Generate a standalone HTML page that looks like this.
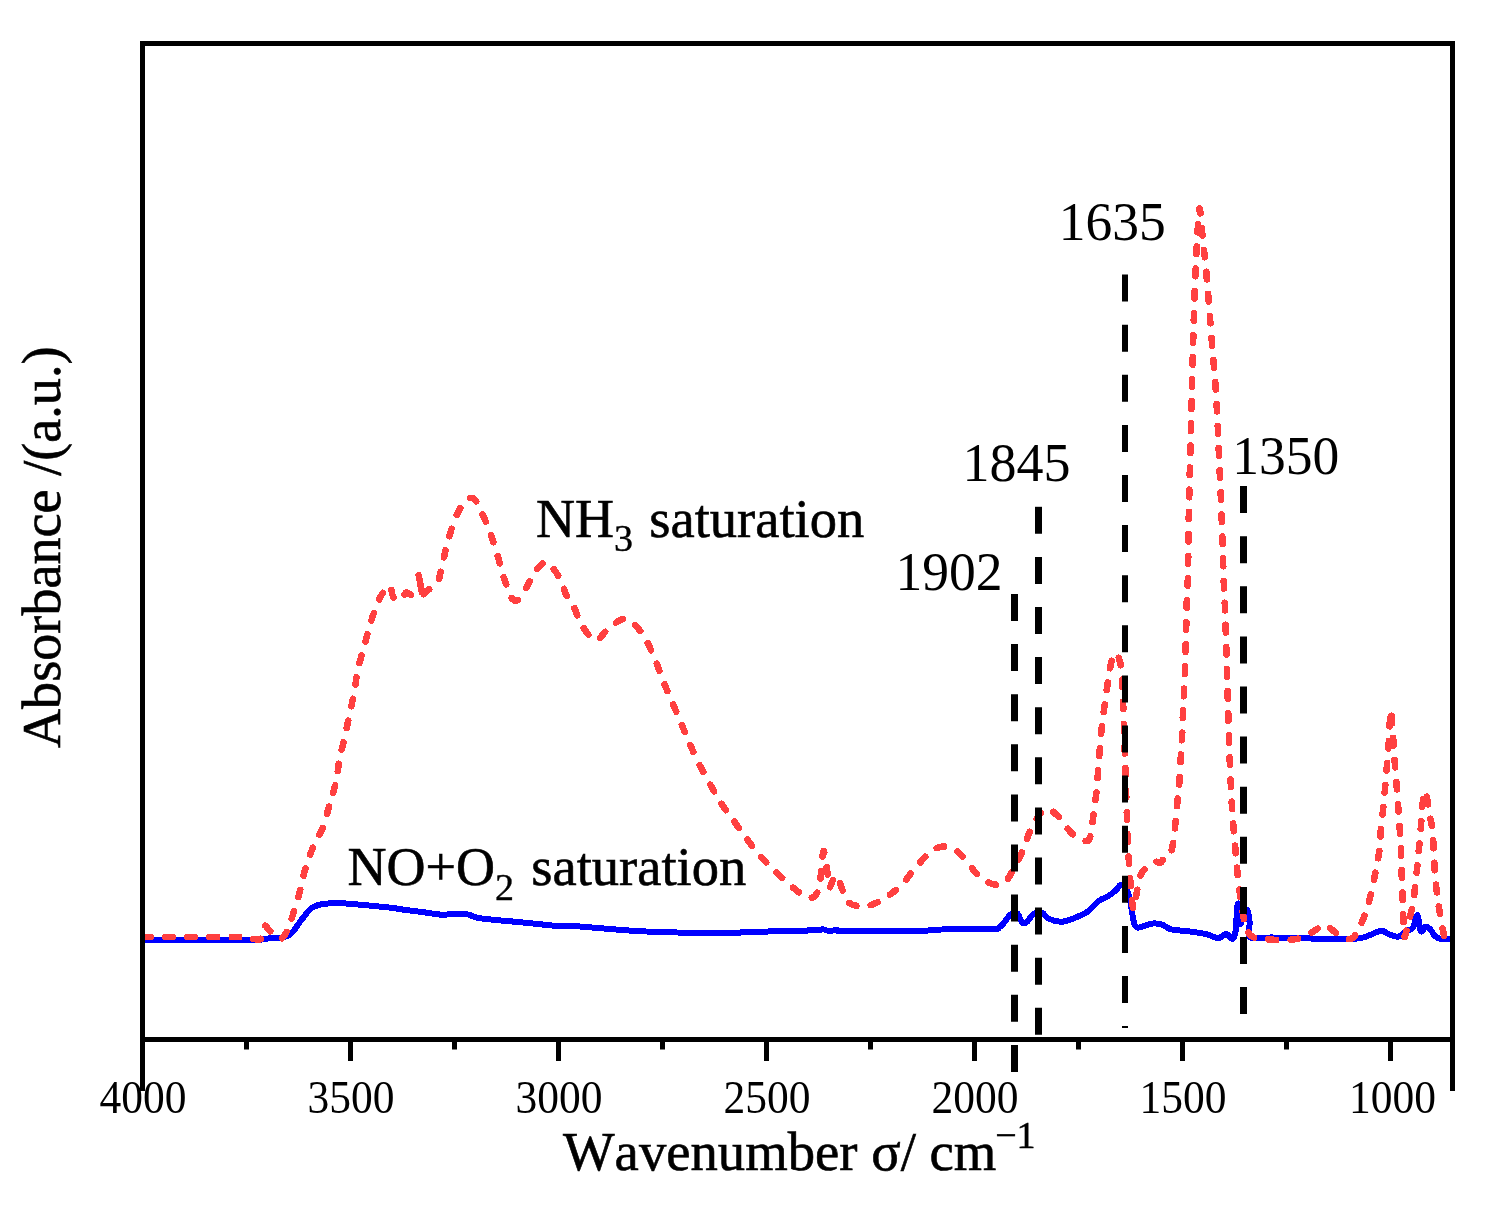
<!DOCTYPE html>
<html lang="en">
<head>
<meta charset="utf-8">
<title>In situ DRIFTS spectra</title>
<style>
html,body{margin:0;padding:0;background:#fff;}
body{width:1490px;height:1209px;overflow:hidden;}
svg{display:block;will-change:transform;}
text{font-family:"Liberation Serif","DejaVu Serif",serif;fill:#000;font-kerning:none;}
.tick{font-size:45.5px;}
.lab{font-size:55.3px;}
.ttl{font-size:54px;stroke:#000;stroke-width:0.6px;}
.sub{font-size:38px;stroke-width:0.4px;}
</style>
</head>
<body>
<svg width="1490" height="1209" viewBox="0 0 1490 1209">
<rect x="0" y="0" width="1490" height="1209" fill="#ffffff"/>

<!-- curves -->
<g shape-rendering="crispEdges">
<path d="M143.0,940.0 C160.8,940.0 228.7,940.3 250.0,940.0 C271.3,939.7 265.7,938.3 270.9,938.0 C276.1,937.7 277.6,938.7 281.0,938.0 C284.4,937.3 287.7,936.5 291.0,933.6 C294.3,930.7 297.7,924.7 301.0,920.5 C304.3,916.3 307.6,911.2 311.0,908.5 C314.4,905.8 316.5,905.3 321.2,904.4 C325.9,903.5 332.6,903.1 339.3,903.2 C346.0,903.3 352.8,904.0 361.5,904.8 C370.2,905.6 385.3,907.1 391.7,907.8 C398.1,908.5 395.0,908.5 400.0,909.2 C405.0,909.9 415.2,911.1 421.9,912.0 C428.6,912.9 435.3,914.2 440.3,914.6 C445.3,915.0 448.6,914.3 452.0,914.2 C455.4,914.1 457.6,913.7 460.4,913.8 C463.1,913.9 465.1,913.9 468.5,914.6 C471.9,915.4 471.8,917.0 480.5,918.3 C489.2,919.6 507.4,921.0 520.8,922.3 C534.2,923.6 552.6,925.7 561.0,926.3 C569.4,926.9 564.3,925.6 571.0,925.9 C577.7,926.2 589.5,927.4 601.3,928.3 C613.1,929.2 625.1,930.5 641.6,931.3 C658.1,932.1 681.9,932.7 700.0,932.9 C718.1,933.1 736.9,932.6 750.3,932.3 C763.7,932.0 769.4,931.2 780.5,930.9 C791.6,930.6 809.8,930.6 816.8,930.3 C823.8,930.0 820.8,929.2 822.8,929.3 C824.8,929.4 826.5,930.8 828.9,930.9 C831.2,931.0 834.9,930.1 836.9,930.1 C838.9,930.1 826.8,930.6 840.9,930.7 C855.0,930.8 904.7,930.9 921.5,930.7 C938.3,930.5 929.9,929.7 941.6,929.5 C953.4,929.3 982.4,929.6 992.0,929.3 C1001.6,929.0 997.0,928.6 999.0,927.5 C1001.0,926.4 1002.0,924.9 1004.0,922.7 C1006.0,920.5 1008.5,916.0 1010.7,914.4 C1012.9,912.8 1015.4,912.0 1017.3,913.4 C1019.2,914.8 1020.6,921.3 1022.2,922.7 C1023.9,924.1 1025.3,923.2 1027.2,921.7 C1029.1,920.2 1031.3,915.2 1033.8,913.7 C1036.3,912.2 1039.6,911.9 1042.1,912.7 C1044.6,913.5 1045.4,917.2 1048.7,918.7 C1052.0,920.2 1057.5,921.9 1061.9,921.7 C1066.3,921.5 1070.8,919.5 1075.2,917.7 C1079.6,915.9 1084.6,913.9 1088.4,911.1 C1092.2,908.4 1095.0,903.7 1098.3,901.2 C1101.6,898.7 1105.2,898.1 1108.2,896.2 C1111.2,894.3 1114.3,891.5 1116.5,889.6 C1118.7,887.7 1119.6,884.1 1121.5,884.6 C1123.4,885.1 1126.4,889.0 1128.1,892.9 C1129.8,896.8 1130.4,902.8 1131.4,907.8 C1132.4,912.8 1132.9,919.4 1134.0,922.7 C1135.1,926.0 1135.1,927.4 1138.0,927.6 C1140.9,927.8 1147.4,924.2 1151.3,923.7 C1155.2,923.2 1157.9,923.4 1161.2,924.3 C1164.5,925.2 1166.3,928.1 1171.1,929.3 C1175.8,930.5 1183.8,930.7 1189.7,931.5 C1195.6,932.3 1201.5,933.1 1206.2,934.2 C1210.9,935.3 1215.0,937.8 1217.8,938.1 C1220.6,938.4 1221.3,936.4 1222.8,935.8 C1224.3,935.1 1225.1,933.7 1226.8,934.2 C1228.5,934.8 1231.2,939.7 1232.7,939.1 C1234.2,938.5 1234.8,936.1 1235.6,930.9 C1236.3,925.7 1236.7,912.2 1237.2,907.7 C1237.7,903.2 1238.0,903.2 1238.4,903.6 C1238.8,904.0 1239.4,906.6 1239.8,910.0 C1240.2,913.4 1240.3,923.5 1240.6,924.0 C1240.9,924.5 1241.2,915.2 1241.8,913.0 C1242.4,910.8 1243.0,910.9 1244.0,910.5 C1245.0,910.1 1246.7,908.6 1247.6,910.5 C1248.5,912.4 1249.1,917.5 1249.6,922.0 C1250.1,926.5 1246.8,934.9 1250.6,937.5 C1254.4,940.1 1257.8,937.2 1272.5,937.5 C1287.2,937.8 1324.2,939.0 1338.7,939.1 C1353.2,939.2 1354.1,938.9 1359.5,938.2 C1364.9,937.5 1367.3,936.0 1371.0,934.7 C1374.7,933.4 1378.4,930.6 1381.5,930.6 C1384.6,930.6 1386.7,933.7 1389.6,934.7 C1392.5,935.7 1396.1,937.2 1398.8,936.6 C1401.5,936.0 1403.5,932.8 1405.8,931.3 C1408.1,929.8 1410.8,930.5 1412.7,927.8 C1414.6,925.1 1416.1,914.5 1417.4,915.1 C1418.8,915.7 1419.5,929.4 1420.8,931.3 C1422.1,933.2 1424.0,927.0 1425.5,926.6 C1427.0,926.2 1428.6,927.5 1430.1,929.0 C1431.6,930.5 1433.0,934.2 1434.7,935.9 C1436.4,937.5 1437.6,938.4 1440.5,938.9 C1443.4,939.4 1450.1,938.9 1452.0,938.9" fill="none" stroke="#0000ff" stroke-width="6" stroke-linejoin="round" stroke-linecap="butt"/>
<path d="M143.1,937.0 C152.6,937.0 183.0,937.0 200.0,937.0 C217.0,937.0 236.0,936.9 245.0,937.2 C254.0,937.5 251.3,938.8 254.0,939.0 C256.7,939.2 259.2,940.7 261.0,938.5 C262.8,936.3 263.2,927.2 264.5,925.8 C265.8,924.4 267.4,928.5 269.0,930.0 C270.6,931.5 272.0,933.6 274.0,935.0 C276.0,936.4 279.0,938.9 281.0,938.6 C283.0,938.3 284.3,936.0 286.0,933.0 C287.7,930.0 288.8,926.9 291.0,920.5 C293.2,914.1 296.7,902.8 299.0,894.4 C301.3,886.0 302.6,878.1 305.0,870.2 C307.4,862.3 310.1,854.2 313.1,847.1 C316.1,840.0 320.2,834.5 323.0,827.3 C325.8,820.1 327.4,811.8 329.6,804.1 C331.8,796.4 334.6,788.4 336.2,781.0 C337.8,773.6 338.1,766.7 339.5,759.5 C340.9,752.3 342.8,745.5 344.5,738.0 C346.2,730.5 347.9,722.5 349.5,714.8 C351.1,707.1 353.0,699.0 354.4,691.6 C355.8,684.2 356.1,677.5 357.7,670.1 C359.3,662.7 361.9,654.5 364.0,647.0 C366.1,639.5 367.8,632.0 370.0,624.8 C372.2,617.6 375.0,609.4 377.2,604.0 C379.4,598.6 381.2,595.2 383.0,592.5 C384.8,589.8 386.8,588.5 388.0,587.5 C389.2,586.5 389.7,585.2 390.5,586.6 C391.3,588.0 391.9,593.9 392.8,596.0 C393.7,598.1 394.5,598.5 396.0,599.0 C397.5,599.5 400.4,599.9 401.7,599.2 C403.0,598.5 403.2,596.1 404.0,595.0 C404.8,593.9 405.2,592.4 406.5,592.5 C407.8,592.6 410.2,594.7 412.0,595.5 C413.8,596.3 415.6,597.6 417.5,597.5 C419.4,597.4 421.6,595.7 423.2,594.6 C424.8,593.5 425.2,592.5 427.0,591.0 C428.8,589.5 431.9,587.1 433.8,585.5 C435.7,583.9 436.7,584.8 438.1,581.5 C439.5,578.2 440.6,572.1 442.1,565.9 C443.6,559.7 444.9,552.1 447.0,544.4 C449.1,536.7 452.2,526.1 454.7,519.6 C457.2,513.1 459.9,508.8 462.0,505.5 C464.1,502.2 465.9,501.1 467.5,499.8 C469.1,498.5 470.3,497.9 471.5,497.8 C472.7,497.8 473.4,498.3 474.5,499.5 C475.6,500.7 475.7,500.3 478.0,505.0 C480.3,509.7 485.3,519.9 488.4,527.9 C491.5,535.9 494.2,544.7 496.7,552.7 C499.2,560.7 501.0,568.7 503.3,575.9 C505.6,583.1 508.6,591.7 510.5,595.8 C512.4,599.9 513.2,599.9 514.5,600.5 C515.8,601.1 517.1,600.7 518.5,599.5 C519.9,598.3 520.3,598.0 523.0,593.5 C525.7,589.0 531.7,577.2 534.7,572.5 C537.7,567.8 539.2,566.7 541.0,565.0 C542.8,563.3 544.2,562.5 545.5,562.3 C546.8,562.1 547.8,563.1 549.0,564.0 C550.2,564.9 551.0,565.6 552.5,567.5 C554.0,569.4 556.2,572.4 557.9,575.2 C559.5,578.0 561.0,581.0 562.4,584.2 C563.8,587.4 564.8,591.8 566.1,594.6 C567.4,597.4 568.8,598.8 570.2,601.0 C571.6,603.2 572.7,604.4 574.3,607.8 C575.9,611.1 577.2,616.4 579.7,621.1 C582.2,625.8 586.6,633.0 589.6,636.0 C592.6,639.0 594.6,640.7 597.9,639.3 C601.2,637.9 604.8,631.1 609.5,627.7 C614.2,624.3 620.5,617.7 626.0,618.8 C631.5,619.9 637.9,627.8 642.6,634.3 C647.3,640.8 650.9,650.0 654.2,657.5 C657.5,665.0 659.6,672.1 662.4,679.0 C665.1,685.9 667.7,691.6 670.7,698.8 C673.7,706.0 677.6,714.8 680.6,722.0 C683.6,729.2 685.9,735.0 688.9,741.9 C691.9,748.8 695.2,756.2 698.8,763.4 C702.4,770.6 706.5,778.0 710.4,784.9 C714.3,791.8 717.9,798.4 722.0,804.7 C726.1,811.0 730.8,816.8 735.2,822.9 C739.6,829.0 744.1,835.3 748.5,841.1 C752.9,846.9 756.7,852.2 761.7,857.7 C766.7,863.2 772.8,869.0 778.3,874.2 C783.8,879.4 789.6,885.1 794.8,889.1 C800.0,893.1 805.8,897.7 809.7,898.0 C813.6,898.3 816.1,895.3 818.0,890.8 C819.9,886.3 820.4,877.5 821.3,870.9 C822.2,864.3 822.6,851.0 823.6,851.0 C824.6,851.0 826.3,864.8 827.2,870.9 C828.1,877.0 828.4,885.6 829.2,887.5 C830.0,889.4 830.9,884.0 832.0,882.0 C833.1,880.0 834.5,875.5 835.8,875.5 C837.0,875.5 838.4,879.6 839.5,882.0 C840.6,884.4 841.0,886.6 842.5,890.0 C844.0,893.4 844.9,899.5 848.3,902.3 C851.6,905.1 857.7,906.6 862.6,906.6 C867.5,906.6 872.8,904.4 877.5,902.3 C882.2,900.2 886.5,897.2 890.8,894.0 C895.1,890.8 898.7,887.9 903.2,883.0 C907.7,878.1 913.0,870.3 918.0,864.8 C923.0,859.3 928.2,852.9 932.9,849.9 C937.6,846.9 942.1,846.3 946.2,846.6 C950.3,846.9 953.9,848.6 957.7,851.6 C961.6,854.6 965.7,860.7 969.3,864.8 C972.9,868.9 975.3,873.2 979.2,876.4 C983.1,879.6 988.4,882.9 992.5,884.0 C996.6,885.1 1000.7,885.1 1004.0,883.0 C1007.3,880.9 1009.3,876.6 1012.3,871.4 C1015.3,866.2 1018.9,859.0 1022.2,851.6 C1025.5,844.2 1028.3,833.8 1032.2,826.7 C1036.1,819.6 1041.0,810.9 1045.4,809.2 C1049.8,807.6 1054.2,812.8 1058.6,816.8 C1063.0,820.8 1067.5,829.4 1071.9,833.4 C1076.3,837.4 1082.1,840.5 1085.1,841.0 C1088.1,841.5 1088.7,841.0 1090.1,836.7 C1091.5,832.4 1092.3,823.2 1093.4,815.2 C1094.5,807.2 1095.8,798.1 1096.7,788.7 C1097.6,779.3 1098.2,768.8 1099.0,758.9 C1099.8,749.0 1100.6,738.6 1101.6,729.2 C1102.6,719.8 1103.8,711.0 1104.9,702.7 C1106.0,694.4 1107.2,686.4 1108.3,679.5 C1109.4,672.6 1110.2,665.7 1111.6,661.4 C1113.0,657.1 1114.8,652.1 1116.5,653.5 C1118.2,654.9 1120.4,661.4 1121.5,669.6 C1122.6,677.8 1122.5,688.9 1123.1,702.7 C1123.6,716.5 1124.2,735.8 1124.8,752.3 C1125.3,768.8 1125.9,786.5 1126.4,801.9 C1127.0,817.3 1127.5,832.8 1128.1,844.9 C1128.7,857.0 1128.9,864.0 1129.8,874.7 C1130.7,885.4 1132.2,906.2 1133.3,909.3 C1134.4,912.3 1135.6,898.0 1136.6,893.0 C1137.6,888.0 1138.5,882.6 1139.5,879.0 C1140.5,875.4 1141.2,873.3 1142.5,871.5 C1143.8,869.7 1145.5,868.9 1147.0,868.0 C1148.5,867.1 1149.8,867.3 1151.3,866.3 C1152.8,865.3 1154.5,862.3 1156.0,861.8 C1157.5,861.2 1159.2,863.6 1160.5,863.0 C1161.8,862.4 1162.8,859.0 1164.0,858.0 C1165.2,857.0 1166.8,858.2 1168.0,857.0 C1169.2,855.8 1170.5,853.5 1171.4,851.0 C1172.3,848.5 1172.7,845.7 1173.3,842.0 C1173.9,838.3 1174.2,835.2 1174.8,829.0 C1175.4,822.8 1176.4,812.3 1177.1,805.0 C1177.8,797.7 1178.5,792.9 1179.1,785.2 C1179.7,777.5 1180.2,767.0 1180.7,758.7 C1181.2,750.4 1181.7,743.2 1182.1,735.5 C1182.5,727.8 1182.7,719.5 1183.0,712.3 C1183.3,705.1 1183.7,699.7 1184.0,692.5 C1184.3,685.3 1184.7,677.6 1185.0,669.3 C1185.3,661.0 1185.5,651.1 1185.7,642.8 C1185.9,634.5 1186.2,627.9 1186.4,619.6 C1186.6,611.3 1186.8,600.1 1187.0,593.1 C1187.2,586.1 1187.6,591.1 1187.9,577.4 C1188.2,563.7 1188.5,533.2 1188.9,511.1 C1189.3,489.0 1190.0,467.0 1190.5,444.9 C1191.0,422.8 1191.7,398.0 1192.2,378.7 C1192.7,359.4 1193.0,345.6 1193.5,329.0 C1194.0,312.4 1194.6,294.2 1195.2,279.3 C1195.8,264.4 1196.5,251.5 1197.2,239.6 C1197.9,227.7 1198.6,208.1 1199.5,208.1 C1200.4,208.1 1201.8,230.5 1202.8,239.6 C1203.8,248.7 1204.6,254.5 1205.4,262.8 C1206.2,271.1 1206.9,279.9 1207.7,289.3 C1208.5,298.7 1209.3,308.6 1210.1,319.1 C1210.9,329.6 1211.9,342.3 1212.7,352.2 C1213.5,362.1 1214.3,369.9 1215.0,378.7 C1215.7,387.5 1216.2,395.3 1216.7,405.2 C1217.2,415.1 1217.8,426.2 1218.3,438.3 C1218.8,450.4 1219.4,464.8 1220.0,478.0 C1220.6,491.2 1221.3,506.7 1221.7,517.7 C1222.1,528.7 1222.2,533.3 1222.6,544.2 C1222.9,555.1 1223.4,572.3 1223.8,583.2 C1224.2,594.1 1224.7,599.8 1225.1,609.7 C1225.5,619.6 1225.8,631.8 1226.1,642.8 C1226.4,653.8 1226.8,664.9 1227.1,675.9 C1227.4,686.9 1227.8,698.0 1228.1,709.0 C1228.4,720.0 1228.7,731.1 1229.1,742.1 C1229.5,753.1 1229.9,764.2 1230.4,775.2 C1230.9,786.2 1231.4,797.8 1232.1,808.3 C1232.8,818.8 1233.6,828.7 1234.4,838.1 C1235.2,847.5 1236.0,856.9 1236.7,864.6 C1237.4,872.3 1237.7,876.8 1238.7,884.5 C1239.7,892.2 1241.4,903.8 1242.6,911.0 C1243.8,918.2 1244.3,923.2 1246.0,927.5 C1247.7,931.8 1249.3,934.9 1252.6,936.8 C1255.9,938.7 1260.3,938.5 1265.8,939.1 C1271.3,939.7 1279.6,940.4 1285.7,940.1 C1291.8,939.8 1297.3,939.2 1302.3,937.5 C1307.3,935.8 1311.8,932.2 1315.5,930.1 C1319.2,928.0 1321.6,924.8 1324.7,925.0 C1327.8,925.2 1330.9,929.1 1334.0,931.3 C1337.1,933.5 1340.2,937.1 1343.3,938.2 C1346.4,939.4 1350.2,939.4 1352.5,938.2 C1354.8,937.1 1355.5,934.4 1357.2,931.3 C1359.0,928.2 1361.1,924.5 1363.0,919.7 C1364.9,914.9 1366.8,909.4 1368.7,902.3 C1370.6,895.2 1372.8,885.4 1374.5,876.9 C1376.2,868.4 1378.1,859.5 1379.2,851.4 C1380.3,843.3 1380.3,835.5 1381.0,828.2 C1381.7,820.9 1382.6,814.7 1383.3,807.4 C1384.0,800.1 1384.7,791.9 1385.4,784.2 C1386.1,776.5 1386.7,768.8 1387.3,761.1 C1387.9,753.4 1388.5,746.4 1389.1,737.9 C1389.7,729.4 1390.0,710.1 1390.7,710.1 C1391.4,710.1 1392.4,729.4 1393.1,737.9 C1393.8,746.4 1394.1,753.4 1394.7,761.1 C1395.3,768.8 1395.9,776.1 1396.5,784.2 C1397.1,792.3 1397.8,801.6 1398.4,809.7 C1399.0,817.8 1399.5,825.2 1400.0,832.9 C1400.5,840.6 1400.9,848.3 1401.2,856.0 C1401.5,863.7 1401.6,871.5 1401.9,879.2 C1402.2,886.9 1402.5,895.0 1402.8,902.3 C1403.1,909.6 1403.2,917.4 1403.5,923.2 C1403.8,929.0 1403.8,937.1 1404.6,937.1 C1405.4,937.1 1406.8,928.5 1408.1,923.2 C1409.4,917.9 1411.3,912.9 1412.7,905.2 C1414.1,897.5 1415.2,885.5 1416.2,876.9 C1417.2,868.3 1417.7,861.8 1418.5,853.7 C1419.3,845.6 1420.1,836.3 1420.8,828.2 C1421.5,820.1 1421.7,811.3 1422.5,805.1 C1423.3,798.9 1424.4,790.1 1425.5,791.2 C1426.6,792.4 1427.8,805.5 1429.0,812.0 C1430.2,818.5 1431.6,823.2 1432.4,830.5 C1433.2,837.8 1433.5,847.9 1434.0,856.0 C1434.5,864.1 1434.7,871.5 1435.4,879.2 C1436.1,886.9 1437.2,895.0 1438.2,902.3 C1439.2,909.6 1440.5,917.2 1441.7,923.2 C1442.9,929.2 1443.5,935.6 1445.2,938.2 C1446.9,940.8 1450.9,938.8 1452.0,938.9" fill="none" stroke="#ff4040" stroke-width="6.6" stroke-linejoin="round" stroke-linecap="round" stroke-dasharray="7.6 14.5"/>
<path id="spike418" d="M418.7,575.2 L422.0,592.5" fill="none" stroke="#ff4040" stroke-width="6.6" stroke-linecap="round" stroke-linejoin="round"/>
</g>

<!-- marker dashed lines -->
<g stroke="#000" fill="none" stroke-dasharray="27 23.1">
<line x1="1014.5" y1="594" x2="1014.5" y2="1072.8" stroke-width="7"/>
<line x1="1038.5" y1="506.8" x2="1038.5" y2="1036" stroke-width="7"/>
<line x1="1125" y1="274.6" x2="1125" y2="1028" stroke-width="6"/>
<line x1="1243.5" y1="486.1" x2="1243.5" y2="1015" stroke-width="7"/>
</g>

<!-- frame -->
<g fill="#000">
<rect x="140" y="41" width="1315" height="5"/>
<rect x="140" y="41" width="5" height="1050"/>
<rect x="1450" y="41" width="5" height="1050"/>
<rect x="140" y="1037" width="1315" height="5"/>
<!-- major ticks -->
<rect x="348" y="1040" width="5" height="21"/>
<rect x="556" y="1040" width="5" height="21"/>
<rect x="764" y="1040" width="5" height="21"/>
<rect x="972" y="1040" width="5" height="21"/>
<rect x="1180" y="1040" width="5" height="21"/>
<rect x="1388" y="1040" width="5" height="21"/>
<!-- minor ticks -->
<rect x="244" y="1040" width="5" height="9.5"/>
<rect x="452" y="1040" width="5" height="9.5"/>
<rect x="660" y="1040" width="5" height="9.5"/>
<rect x="868" y="1040" width="5" height="9.5"/>
<rect x="1076" y="1040" width="5" height="9.5"/>
<rect x="1284" y="1040" width="5" height="9.5"/>
</g>

<!-- tick labels -->
<g class="tick">
<text x="99.5" y="1113" textLength="87" lengthAdjust="spacingAndGlyphs">4000</text>
<text x="307.5" y="1113" textLength="87" lengthAdjust="spacingAndGlyphs">3500</text>
<text x="515.5" y="1113" textLength="87" lengthAdjust="spacingAndGlyphs">3000</text>
<text x="723.5" y="1113" textLength="87" lengthAdjust="spacingAndGlyphs">2500</text>
<text x="931.5" y="1113" textLength="87" lengthAdjust="spacingAndGlyphs">2000</text>
<text x="1139.5" y="1113" textLength="87" lengthAdjust="spacingAndGlyphs">1500</text>
<text x="1349" y="1113" textLength="87" lengthAdjust="spacingAndGlyphs">1000</text>
</g>

<!-- peak labels -->
<g class="lab">
<text x="1058.8" y="240.2" textLength="107" lengthAdjust="spacingAndGlyphs">1635</text>
<text x="962.6" y="481" textLength="108" lengthAdjust="spacingAndGlyphs">1845</text>
<text x="1232.2" y="473.5" textLength="107" lengthAdjust="spacingAndGlyphs">1350</text>
<text x="895.6" y="589.9" textLength="107" lengthAdjust="spacingAndGlyphs">1902</text>
</g>

<!-- series labels -->
<text class="ttl" x="536" y="537">NH<tspan class="sub" dy="13.5">3</tspan></text>
<text class="ttl" x="649.3" y="537" textLength="215" lengthAdjust="spacingAndGlyphs">saturation</text>
<text class="ttl" x="347.5" y="885">NO+O<tspan class="sub" dy="15.3">2</tspan></text>
<text class="ttl" x="531.3" y="885" textLength="215" lengthAdjust="spacingAndGlyphs">saturation</text>

<!-- axis titles -->
<text class="ttl" x="563" y="1170" textLength="433.4" lengthAdjust="spacingAndGlyphs">Wavenumber σ/ cm</text>
<text x="995.2" y="1147.5" style="font-size:38px;stroke:#000;stroke-width:0.5px">−1</text>
<text class="ttl" transform="translate(59.6,748) rotate(-90)" textLength="401.5" lengthAdjust="spacingAndGlyphs">Absorbance /(a.u.)</text>
</svg>
</body>
</html>
